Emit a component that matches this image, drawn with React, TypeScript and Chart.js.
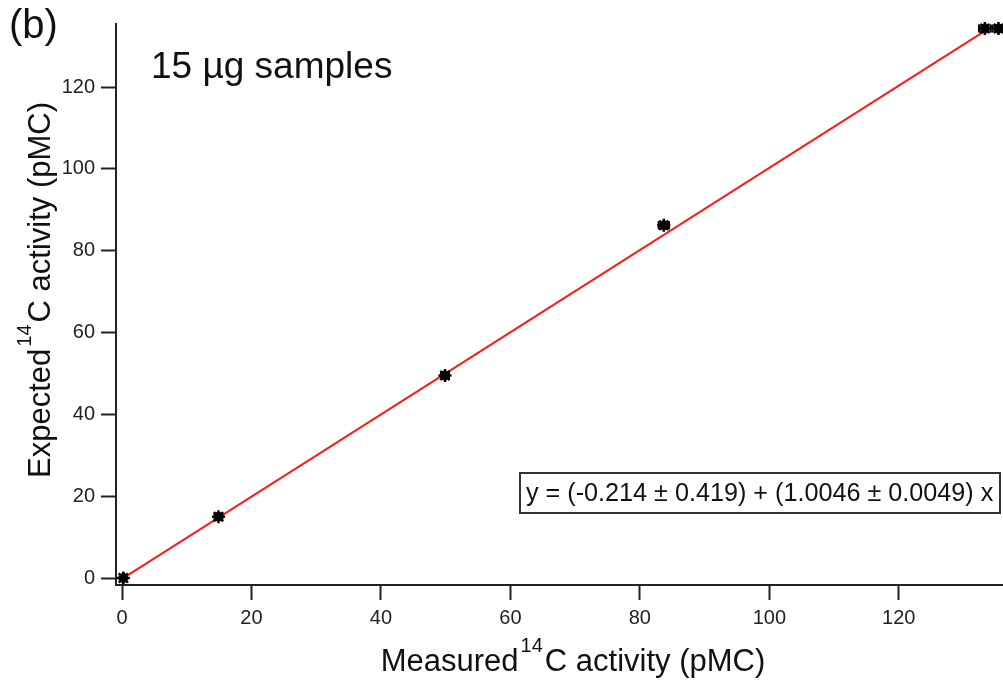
import React, { useEffect, useRef } from "react";
import { Chart, registerables } from "chart.js";

Chart.register(...registerables);

const measured = [0.2, 14.9, 49.9, 83.7, 133.3, 135.4];
const expected = [0.0, 15.0, 49.5, 86.2, 134.3, 134.3];
const measuredErr = [0.3, 0.6, 0.6, 0.8, 0.9, 0.9];
const expectedErr = [0.3, 0.5, 0.5, 0.6, 0.5, 0.5];

const fitX = [0, 134.6];
const fitY = [-0.2, 135.0];

const xTicks = [0, 20, 40, 60, 80, 100, 120];
const yTicks = [0, 20, 40, 60, 80, 100, 120];

const panelLabel = "(b)";
const sampleLabel = "15 µg samples";
const equationText = "y = (-0.214 ± 0.419) + (1.0046 ± 0.0049) x";
const xTitleParts = ["Measured", "14", "C activity (pMC)"];
const yTitleParts = ["Expected", "14", "C activity (pMC)"];

const FONT = "'Liberation Sans', Arial, Helvetica, sans-serif";

const errorBarPlugin = {
  id: "errorBars",
  afterDatasetsDraw(chart: any) {
    const { ctx, scales } = chart;
    const xs = scales.x;
    const ys = scales.y;
    ctx.save();
    ctx.strokeStyle = "#000";
    ctx.lineWidth = 2;
    measured.forEach((mx, i) => {
      const my = expected[i];
      const px = xs.getPixelForValue(mx);
      const py = ys.getPixelForValue(my);
      const x0 = xs.getPixelForValue(mx - measuredErr[i]);
      const x1 = xs.getPixelForValue(mx + measuredErr[i]);
      const y0 = ys.getPixelForValue(my - expectedErr[i]);
      const y1 = ys.getPixelForValue(my + expectedErr[i]);
      ctx.beginPath();
      ctx.moveTo(x0, py);
      ctx.lineTo(x1, py);
      ctx.moveTo(x0, py - 4);
      ctx.lineTo(x0, py + 4);
      ctx.moveTo(x1, py - 4);
      ctx.lineTo(x1, py + 4);
      ctx.moveTo(px, y0);
      ctx.lineTo(px, y1);
      ctx.stroke();
    });
    ctx.restore();
  },
};

function drawSupTitle(ctx: CanvasRenderingContext2D, parts: string[], cx: number) {
  const mainFont = `31px ${FONT}`;
  const supFont = `20px ${FONT}`;
  ctx.font = mainFont;
  const w0 = ctx.measureText(parts[0]).width;
  const w2 = ctx.measureText(parts[2]).width;
  ctx.font = supFont;
  const w1 = ctx.measureText(parts[1]).width;
  const gap = 2;
  const total = w0 + gap + w1 + gap + w2;
  let x = cx - total / 2;
  ctx.textAlign = "left";
  ctx.textBaseline = "alphabetic";
  ctx.font = mainFont;
  ctx.fillText(parts[0], x, 0);
  x += w0 + gap;
  ctx.font = supFont;
  ctx.fillText(parts[1], x, -19);
  x += w1 + gap;
  ctx.font = mainFont;
  ctx.fillText(parts[2], x, 0);
}

const annotationPlugin = {
  id: "annotations",
  afterDraw(chart: any) {
    const { ctx } = chart;
    ctx.save();
    ctx.fillStyle = "#111";
    ctx.textAlign = "left";
    ctx.textBaseline = "middle";
    ctx.font = `40px ${FONT}`;
    ctx.fillText(panelLabel, 9, 27);
    ctx.textBaseline = "alphabetic";
    ctx.font = `37px ${FONT}`;
    ctx.fillText(sampleLabel, 151, 78);
    // equation box
    ctx.fillStyle = "#fff";
    ctx.fillRect(520, 473, 480, 40);
    ctx.strokeStyle = "#333";
    ctx.lineWidth = 2;
    ctx.strokeRect(520, 473, 480, 40);
    ctx.fillStyle = "#111";
    ctx.textBaseline = "middle";
    ctx.font = `25.2px ${FONT}`;
    ctx.fillText(equationText, 526, 494);
    ctx.restore();

    // axis titles with superscripts
    ctx.save();
    ctx.fillStyle = "#111";
    ctx.translate(0, 671);
    drawSupTitle(ctx, xTitleParts, 573);
    ctx.restore();

    ctx.save();
    ctx.fillStyle = "#111";
    ctx.translate(50, 0);
    ctx.rotate(-Math.PI / 2);
    drawSupTitle(ctx, yTitleParts, -290);
    ctx.restore();
  },
};

export default function App() {
  const canvasRef = useRef<HTMLCanvasElement | null>(null);

  useEffect(() => {
    if (!canvasRef.current) return;
    const points = measured.map((x, i) => ({ x, y: expected[i] }));
    const fit = fitX.map((x, i) => ({ x, y: fitY[i] }));
    const chart = new Chart(canvasRef.current, {
      type: "scatter",
      data: {
        datasets: [
          {
            label: "fit",
            data: fit,
            showLine: true,
            borderColor: "#ff1a1a",
            borderWidth: 2,
            pointRadius: 0,
            fill: false,
            clip: false as any,
            order: 2,
          } as any,
          {
            label: "samples",
            data: points,
            pointStyle: "circle",
            pointRadius: 4.5,
            backgroundColor: "#000",
            borderColor: "#000",
            borderWidth: 1,
            clip: false as any,
            order: 1,
          } as any,
          {
            label: "samples-star",
            data: points,
            pointStyle: "star",
            pointRadius: 6.5,
            backgroundColor: "#000",
            borderColor: "#000",
            borderWidth: 2.5,
            clip: false as any,
            order: 0,
          } as any,
        ],
      },
      options: {
        animation: false,
        responsive: true,
        maintainAspectRatio: false,
        layout: { autoPadding: false, padding: { top: 24, right: 0, bottom: 0, left: 0 } },
        plugins: {
          legend: { display: false },
          tooltip: { enabled: false },
        },
        scales: {
          x: {
            type: "linear",
            min: -0.93,
            max: 136.1,
            afterBuildTicks: (scale: any) => {
              scale.ticks = xTicks.map((v) => ({ value: v }));
            },
            afterFit: (scale: any) => {
              scale.height = 98;
              scale.paddingLeft = 0;
              scale.paddingRight = 0;
            },
            grid: {
              drawOnChartArea: false,
              drawTicks: true,
              tickLength: 15,
              tickColor: "#222",
              tickWidth: 2,
            },
            border: { display: true, color: "#222", width: 2 },
            ticks: {
              color: "#222",
              font: { family: FONT, size: 20 },
              padding: 6,
              maxRotation: 0,
              autoSkip: false,
            },
            title: { display: false },
          },
          y: {
            type: "linear",
            min: -1.7,
            max: 135.4,
            afterBuildTicks: (scale: any) => {
              scale.ticks = yTicks.map((v) => ({ value: v }));
            },
            afterFit: (scale: any) => {
              scale.width = 116;
              scale.paddingTop = 0;
              scale.paddingBottom = 0;
            },
            grid: {
              drawOnChartArea: false,
              drawTicks: true,
              tickLength: 15,
              tickColor: "#222",
              tickWidth: 2,
            },
            border: { display: true, color: "#222", width: 2 },
            ticks: {
              color: "#222",
              font: { family: FONT, size: 20 },
              padding: 6,
              autoSkip: false,
            },
            title: { display: false },
          },
        },
      },
      plugins: [errorBarPlugin, annotationPlugin],
    });
    return () => chart.destroy();
  }, []);

  return (
    <div style={{ position: "absolute", left: 0, top: 0, width: 1003, height: 683, background: "#fff" }}>
      <canvas ref={canvasRef} />
    </div>
  );
}
